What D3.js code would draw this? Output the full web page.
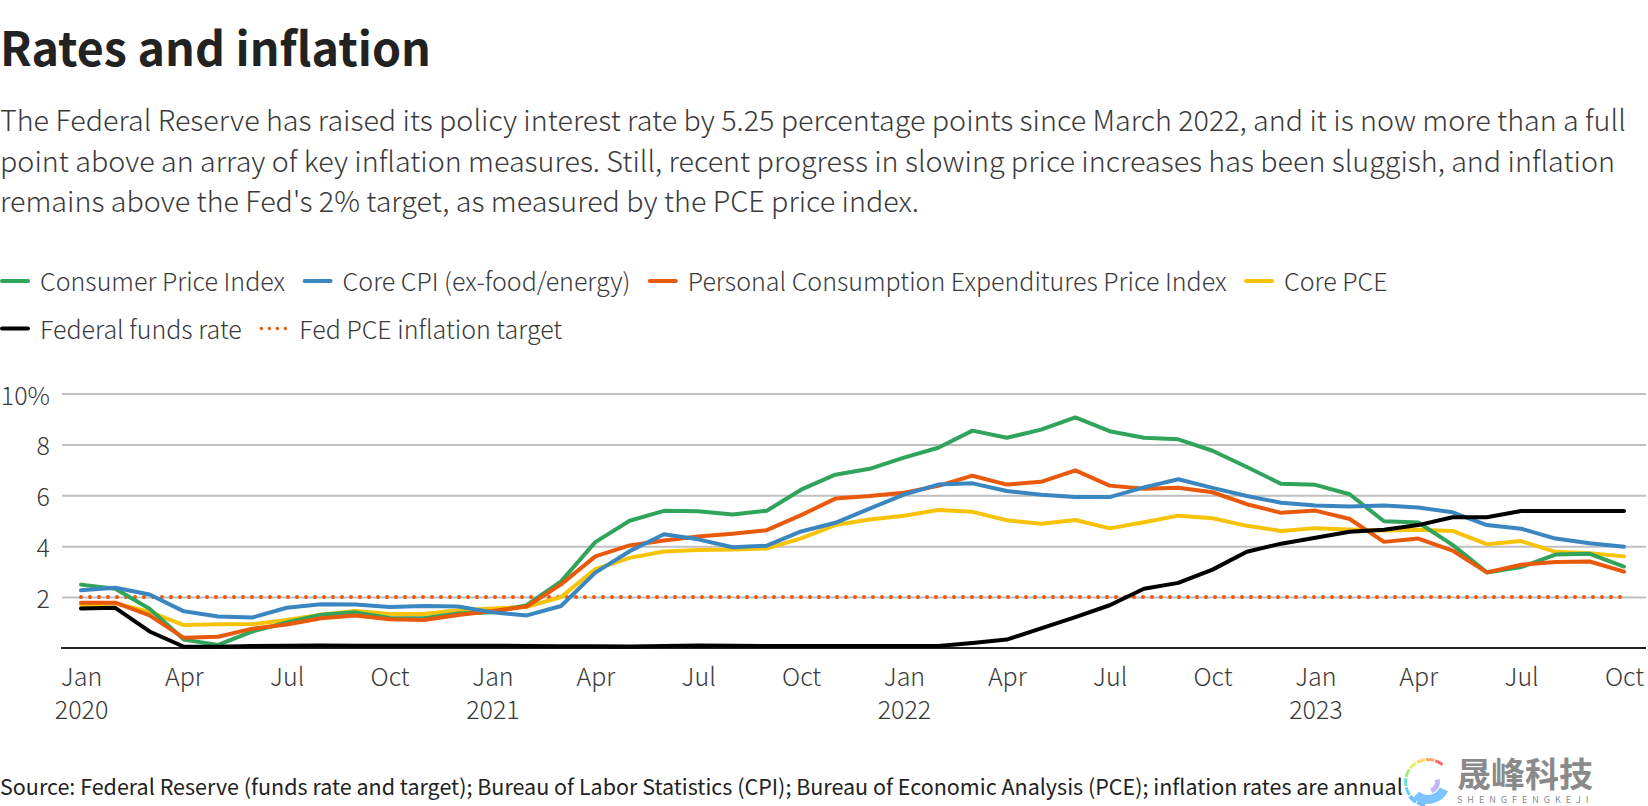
<!DOCTYPE html>
<html>
<head>
<meta charset="utf-8">
<script src="https://cdn.jsdelivr.net/npm/d3@7"></script>
<style>
  body { margin: 0; background: #fff; }
  svg { display: block; }
  text { font-family: "Noto Sans CJK SC", "Noto Sans", sans-serif; font-weight: 300; fill: #3a3a3a; }
</style>
</head>
<body>
<svg id="chart" width="1648" height="806"></svg>
<script>
// data, one value per month, Jan 2020 - Oct 2023
const monthNames = ['Jan','Feb','Mar','Apr','May','Jun','Jul','Aug','Sep','Oct','Nov','Dec']
const years = [2020, 2021, 2022, 2023]
const months = years.flatMap(y => monthNames.map(m => m + ' ' + y)).slice(0, 46)

const cpi = [2.49,2.33,1.54,0.33,0.12,0.65,1.0,1.31,1.4,1.18,1.17,1.36,1.4,1.68,2.62,4.16,5.0,5.39,5.37,5.25,5.39,6.22,6.81,7.04,7.48,7.87,8.54,8.26,8.58,9.06,8.52,8.26,8.2,7.75,7.11,6.45,6.41,6.04,4.98,4.93,4.05,2.97,3.18,3.67,3.7,3.2]
const coreCpi = [2.27,2.37,2.1,1.44,1.24,1.2,1.58,1.72,1.71,1.61,1.65,1.63,1.4,1.28,1.65,2.96,3.8,4.47,4.27,3.96,4.02,4.58,4.92,5.48,6.03,6.42,6.47,6.17,6.02,5.93,5.93,6.31,6.63,6.29,5.97,5.71,5.6,5.56,5.6,5.52,5.33,4.83,4.69,4.3,4.12,3.98]
const pce = [1.78,1.78,1.28,0.4,0.44,0.76,0.92,1.17,1.28,1.13,1.1,1.3,1.45,1.63,2.5,3.6,4.03,4.22,4.38,4.49,4.63,5.22,5.87,5.97,6.1,6.37,6.77,6.42,6.53,6.98,6.38,6.26,6.3,6.12,5.65,5.31,5.4,5.07,4.17,4.3,3.83,2.97,3.27,3.38,3.4,3.0]
const corePce = [1.68,1.76,1.42,0.9,0.93,0.94,1.1,1.31,1.45,1.34,1.34,1.48,1.55,1.62,2.0,3.1,3.54,3.79,3.85,3.87,3.91,4.31,4.83,5.05,5.2,5.42,5.35,5.02,4.88,5.03,4.7,4.94,5.2,5.1,4.8,4.6,4.71,4.66,4.62,4.65,4.6,4.08,4.2,3.78,3.72,3.6]
const fedFunds = [1.55,1.58,0.65,0.05,0.05,0.08,0.09,0.1,0.09,0.09,0.09,0.09,0.09,0.08,0.07,0.07,0.06,0.08,0.1,0.09,0.08,0.08,0.08,0.08,0.08,0.08,0.2,0.33,0.77,1.21,1.68,2.33,2.56,3.08,3.78,4.1,4.33,4.57,4.65,4.83,5.14,5.14,5.38,5.38,5.38,5.38]
const target = months.map(() => 2)

const yTicks = [2, 4, 6, 8, 10]
const xTicks = months.filter((m, i) => i % 3 === 0)

const titleText = 'Rates and inflation'
const subtitleLines = [
    'The Federal Reserve has raised its policy interest rate by 5.25 percentage points since March 2022, and it is now more than a full',
    "point above an array of key inflation measures. Still, recent progress in slowing price increases has been sluggish, and inflation",
    "remains above the Fed's 2% target, as measured by the PCE price index."
]
const sourceText = 'Source: Federal Reserve (funds rate and target); Bureau of Labor Statistics (CPI); Bureau of Economic Analysis (PCE); inflation rates are annual'

const svg = d3.select('#chart')

// scales
const x = d3.scalePoint().domain(months).range([81, 1624])
const y = d3.scaleLinear().domain([0, 10]).range([648, 393.5])

// header
svg.append('text').text(titleText)
    .attr('x', 0).attr('y', 66)
    .style('font-size', '46.6px').style('font-weight', 700).style('fill', '#222')

svg.selectAll('.sub').data(subtitleLines).join('text')
    .attr('class', 'sub')
    .attr('x', 0)
    .attr('y', (d, i) => 131 + i * 40.5)
    .style('font-size', '28.7px')
    .text(d => d)

// legend
const legendRows = [
    [['Consumer Price Index', '#2fa45a', false], ['Core CPI (ex-food/energy)', '#3a86c0', false],
     ['Personal Consumption Expenditures Price Index', '#e8590c', false], ['Core PCE', '#f6c309', false]],
    [['Federal funds rate', '#000', false], ['Fed PCE inflation target', '#e8590c', true]]
]
legendRows.forEach((row, r) => {
    let lx = 0
    const ly = 291 + r * 47.5
    row.forEach(item => {
        const line = svg.append('line')
            .attr('x1', lx + 2).attr('x2', lx + 28)
            .attr('y1', ly - 10).attr('y2', ly - 10)
            .attr('stroke', item[1]).attr('stroke-linecap', 'round')
        if (item[2]) line.attr('stroke-width', 3.5).attr('stroke-dasharray', '0 8')
        else line.attr('stroke-width', 4)
        const t = svg.append('text').text(item[0])
            .attr('x', lx + 40).attr('y', ly)
            .style('font-size', '25px')
        lx += 40 + t.node().getComputedTextLength() + 17.5
    })
})

// y axis and gridlines
const yAxis = svg.append('g')
    .attr('transform', 'translate(62,0)')
    .call(d3.axisLeft(y).tickValues(yTicks).tickSize(-1584).tickPadding(12)
        .tickFormat(d => d === 10 ? '10%' : d))
yAxis.select('.domain').remove()
yAxis.selectAll('line').attr('stroke', '#c0c0c0').attr('stroke-width', 2)
yAxis.selectAll('text').attr('dy', '0.42em').style('font-size', '25px').style('fill', '#3a3a3a')

// x axis
const xAxis = svg.append('g')
    .attr('transform', `translate(0,${y(0)})`)
    .call(d3.axisBottom(x).tickValues(xTicks).tickSize(0).tickPadding(20)
        .tickFormat(d => d.split(' ')[0]))
xAxis.select('.domain').remove()
xAxis.selectAll('text').style('font-size', '25px').style('fill', '#3a3a3a')
xAxis.selectAll('.tick')
    .filter(d => d.startsWith('Jan'))
    .append('text')
    .attr('y', 71)
    .attr('text-anchor', 'middle')
    .style('font-size', '25px').style('fill', '#3a3a3a')
    .text(d => d.split(' ')[1])

svg.append('line')
    .attr('x1', 61).attr('x2', 1646)
    .attr('y1', y(0)).attr('y2', y(0))
    .attr('stroke', '#222').attr('stroke-width', 2)

// lines
const line = d3.line().x((d, i) => x(months[i])).y(d => y(d))

svg.append('path').datum(target)
    .attr('d', line).attr('fill', 'none')
    .attr('stroke', '#e8590c').attr('stroke-width', 4)
    .attr('stroke-linecap', 'round').attr('stroke-dasharray', '0 9')

const drawOrder = [
    [corePce, '#f6c309'],
    [cpi, '#2fa45a'],
    [pce, '#e8590c'],
    [coreCpi, '#3a86c0'],
    [fedFunds, '#000']
]
drawOrder.forEach(s => {
    svg.append('path').datum(s[0])
        .attr('d', line).attr('fill', 'none')
        .attr('stroke', s[1]).attr('stroke-width', 4)
        .attr('stroke-linejoin', 'round').attr('stroke-linecap', 'round')
})

// source
svg.append('text').text(sourceText)
    .attr('x', 0).attr('y', 795)
    .style('font-size', '21.5px').style('font-weight', 400).style('fill', '#222')

// watermark logo
const logoColors = ['#ff6b6b','#ffa866','#ffd76b','#e8ef6b','#a8ec7a','#6fe3c0','#64d2f0','#6cc0ff','#74bcff']
const logoArc = d3.arc()
const logo = svg.append('g').attr('transform', 'translate(1428,782)')
logo.selectAll('.blade').data(logoColors).join('path')
    .attr('class', 'blade')
    .attr('d', (d, i) => logoArc({
        innerRadius: 21,
        outerRadius: 24 + (i > 6 ? 1 : 0),
        startAngle: (40 - i * 24) * Math.PI / 180,
        endAngle: (40 - (i + 1) * 24 + 3) * Math.PI / 180
    }))
    .attr('fill', d => d)
// lower blue crescent and purple inner swoosh
logo.append('path')
    .attr('d', logoArc({ innerRadius: 13, outerRadius: 22, startAngle: 2.0, endAngle: 3.9 }))
    .attr('fill', '#7cc4ff')
logo.append('path')
    .attr('d', logoArc({ innerRadius: 7, outerRadius: 12, startAngle: 1.3, endAngle: 2.8 }))
    .attr('fill', '#c4b5f5')

svg.append('text').text('晟峰科技')
    .attr('x', 1457).attr('y', 787)
    .style('font-size', '34px').style('font-weight', 700).style('fill', '#8a8a8a')
svg.append('text').text('SHENGFENGKEJI')
    .attr('x', 1457).attr('y', 802.5)
    .style('font-size', '9px').style('letter-spacing', '5px').style('font-weight', 400).style('fill', '#8a8a8a')
</script>
</body>
</html>
